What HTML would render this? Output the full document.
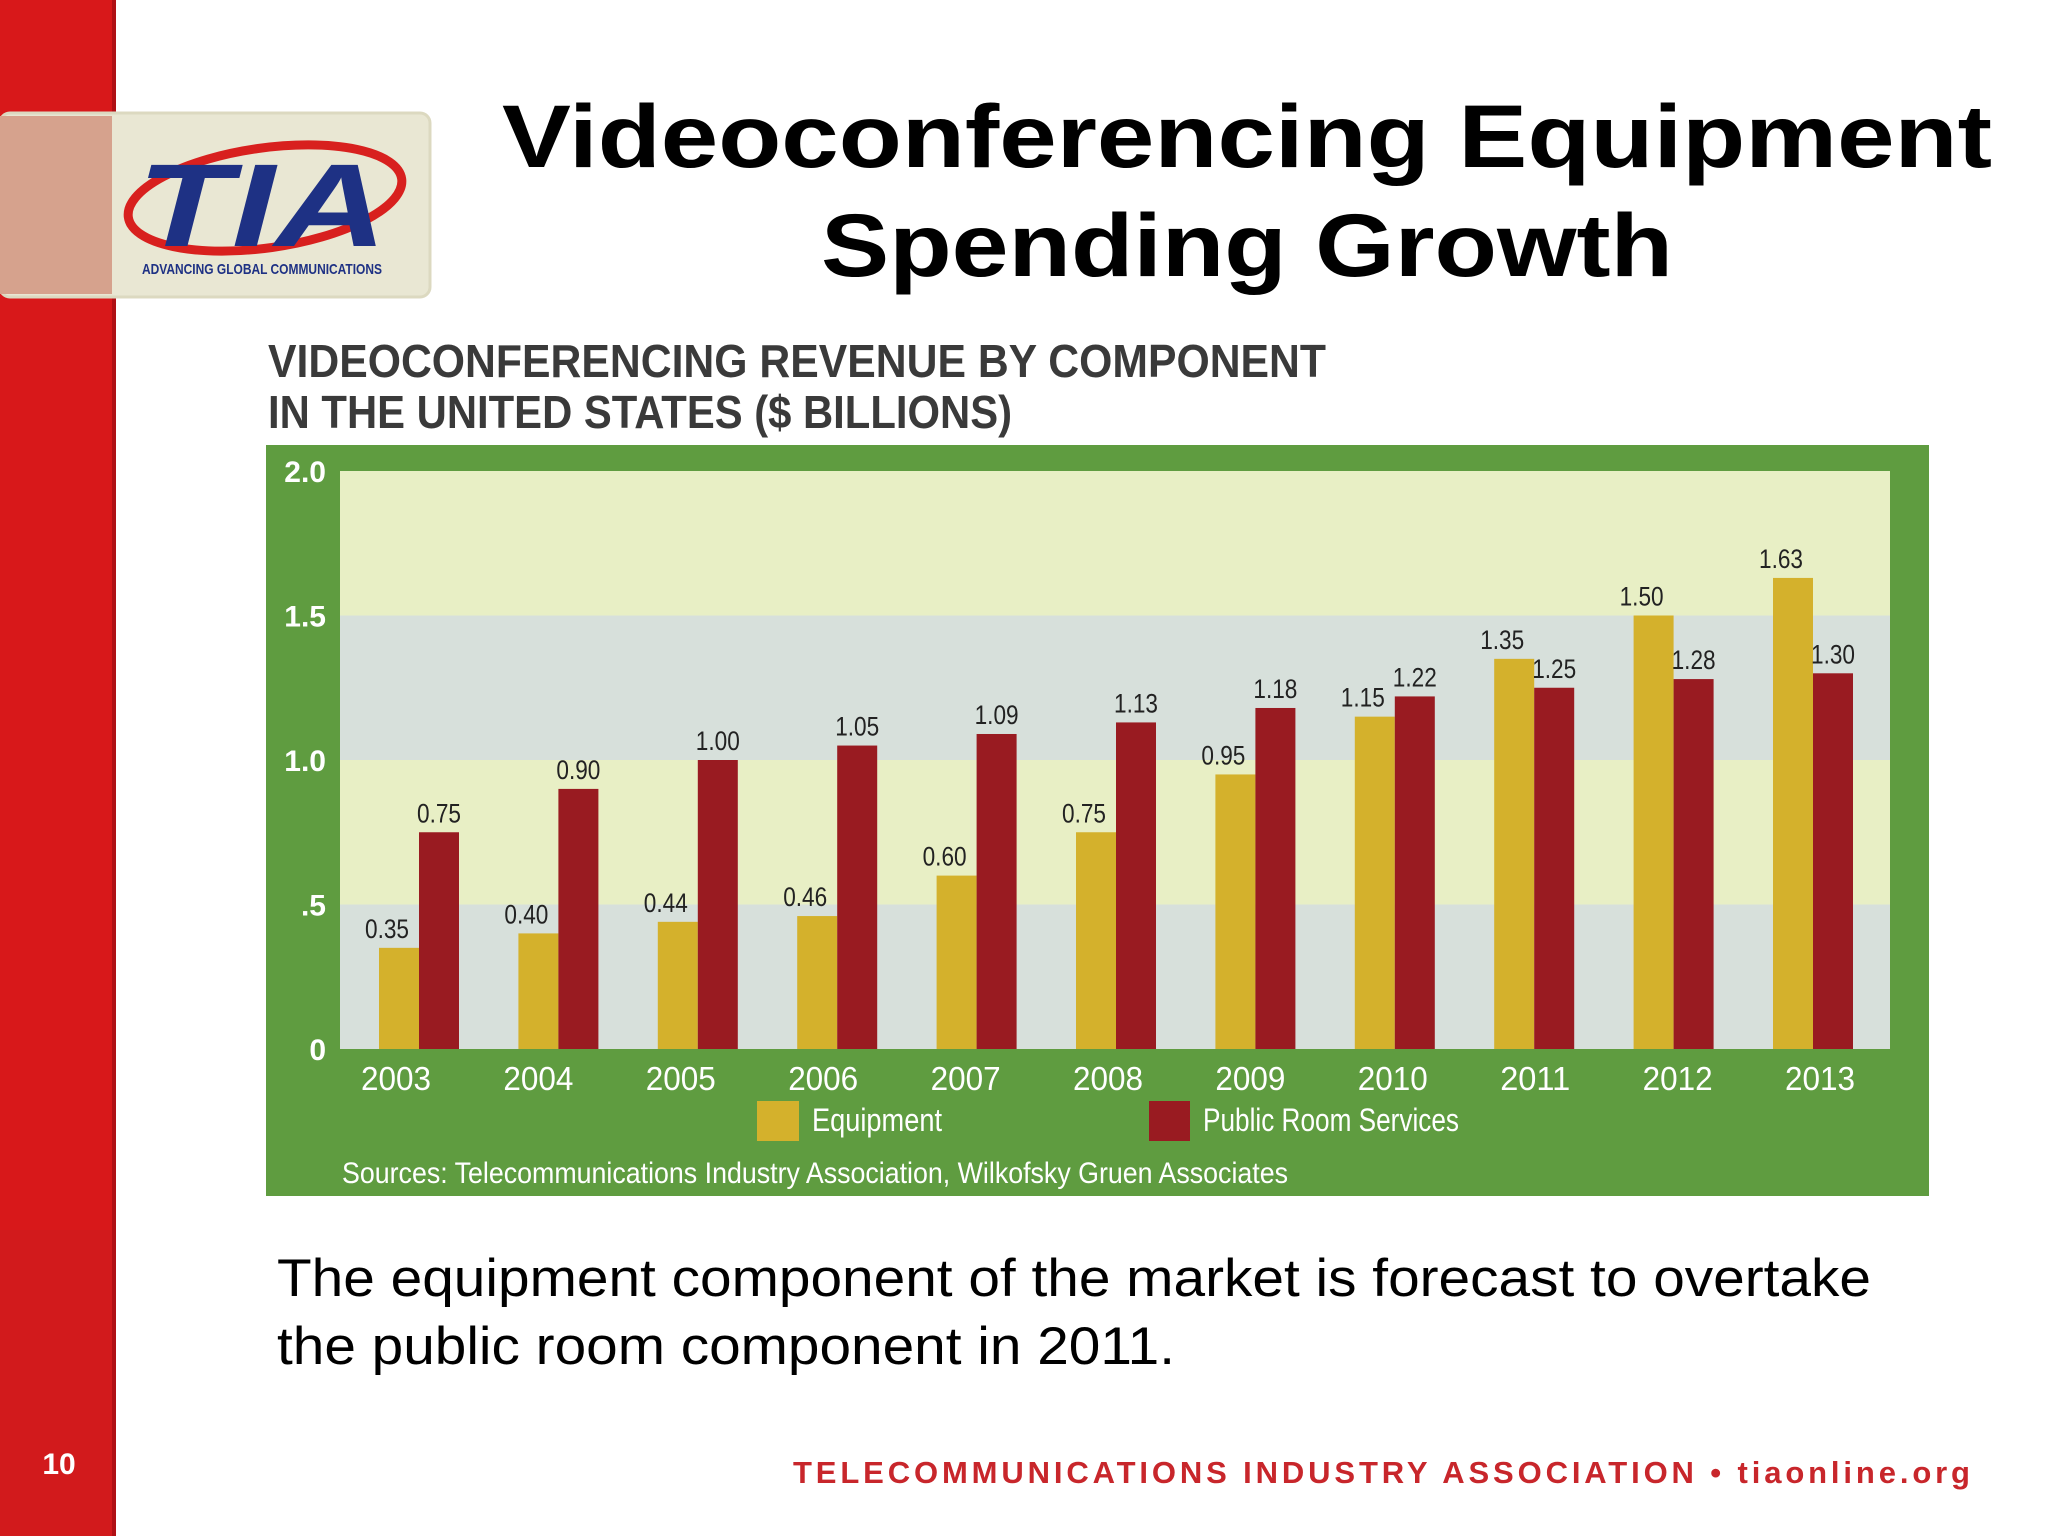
<!DOCTYPE html>
<html><head><meta charset="utf-8"><style>
html,body{margin:0;padding:0;background:#fff}
svg{display:block}
text{font-family:"Liberation Sans",sans-serif}
</style></head><body>
<svg id="s" width="2048" height="1536" viewBox="0 0 2048 1536" xmlns="http://www.w3.org/2000/svg">
<rect x="0" y="0" width="112" height="1536" fill="#d8181a"/>
<rect x="112" y="0" width="4" height="1536" fill="#b01015"/>
<rect x="0" y="1230" width="112" height="306" fill="#d21a1c"/>
<g>
<rect x="0" y="113" width="430" height="184" rx="10" fill="#e9e7d3" stroke="#dcd9c0" stroke-width="3"/>
<rect x="0" y="116" width="112" height="178" fill="#d6a28d"/>
<ellipse cx="265" cy="198" rx="138" ry="50" transform="rotate(-8 265 198)" fill="none" stroke="#d8201e" stroke-width="9"/>
<text x="262" y="246" text-anchor="middle" font-size="118" font-weight="bold" font-style="italic" fill="#1e3184" textLength="250" lengthAdjust="spacingAndGlyphs">TIA</text>
<text x="262" y="274" text-anchor="middle" font-size="15" font-weight="bold" fill="#1e3184" textLength="240" lengthAdjust="spacingAndGlyphs">ADVANCING GLOBAL COMMUNICATIONS</text>
</g>
<text x="1247" y="167" text-anchor="middle" font-size="89" font-weight="bold" fill="#000" textLength="1490" lengthAdjust="spacingAndGlyphs">Videoconferencing Equipment</text>
<text x="1247" y="276" text-anchor="middle" font-size="89" font-weight="bold" fill="#000" textLength="852" lengthAdjust="spacingAndGlyphs">Spending Growth</text>
<text x="268" y="377" font-size="46" font-weight="bold" fill="#3a3a3a" textLength="1058" lengthAdjust="spacingAndGlyphs">VIDEOCONFERENCING REVENUE BY COMPONENT</text>
<text x="268" y="428" font-size="46" font-weight="bold" fill="#3a3a3a" textLength="744" lengthAdjust="spacingAndGlyphs">IN THE UNITED STATES ($ BILLIONS)</text>
<rect x="266" y="445" width="1663" height="751" fill="#5f9c40"/>
<g id="chart"></g>
<text x="277" y="1296" font-size="53" fill="#000" textLength="1594" lengthAdjust="spacingAndGlyphs">The equipment component of the market is forecast to overtake</text>
<text x="277" y="1364" font-size="53" fill="#000" textLength="898" lengthAdjust="spacingAndGlyphs">the public room component in 2011.</text>
<text x="59" y="1474" text-anchor="middle" font-size="30" font-weight="bold" fill="#fff">10</text>
<text x="793" y="1483" font-size="31" font-weight="bold" fill="#c8262b" textLength="1177" lengthAdjust="spacing">TELECOMMUNICATIONS INDUSTRY ASSOCIATION • tiaonline.org</text>
</svg>
<script>
const years=["2003","2004","2005","2006","2007","2008","2009","2010","2011","2012","2013"];
const equipment=[0.35,0.40,0.44,0.46,0.60,0.75,0.95,1.15,1.35,1.50,1.63];
const publicRoom=[0.75,0.90,1.00,1.05,1.09,1.13,1.18,1.22,1.25,1.28,1.30];
const yTicks=[0,0.5,1.0,1.5,2.0];
const yTickLabels=["0",".5","1.0","1.5","2.0"];
const NS="http://www.w3.org/2000/svg";
const g=document.getElementById('chart');
const X0=340,X1=1890,Y0=1049,Y1=471,YMAX=2;
const y=v=>Y0-(v/YMAX)*(Y0-Y1);
const xc=i=>419+i*139.4;
const xl=i=>396+i*142.4;
function mk(tag,attrs,txt){const e=document.createElementNS(NS,tag);for(const k in attrs)e.setAttribute(k,attrs[k]);if(txt!==undefined)e.textContent=txt;g.appendChild(e);return e;}
const bandColors=["#d7e0db","#e8efc5","#d7e0db","#e8efc5"];
for(let i=0;i<yTicks.length-1;i++){
 const b=mk('rect',{x:X0,y:y(yTicks[i+1]),width:X1-X0,height:y(yTicks[i])-y(yTicks[i+1]),fill:bandColors[i]});
 
 
}
yTicks.forEach((t,i)=>{
 const e=mk('text',{x:326,y:y(t)+11,'text-anchor':'end','font-size':30,'font-weight':'bold',fill:'#fff'},yTickLabels[i]);
 
 
});
const bw=40;
years.forEach((yr,i)=>{
 const c=xc(i);
 const a=mk('rect',{x:c-bw,y:y(equipment[i]),width:bw,height:Y0-y(equipment[i]),fill:'#d4b12c'});
 
 
 const b=mk('rect',{x:c,y:y(publicRoom[i]),width:bw,height:Y0-y(publicRoom[i]),fill:'#991b21'});
 
 
 const la=mk('text',{x:c-bw/2-12,y:y(equipment[i])-10,'text-anchor':'middle','font-size':27,fill:'#222',textLength:44,lengthAdjust:'spacingAndGlyphs'},equipment[i].toFixed(2));
 
 
 const lb=mk('text',{x:c+bw/2,y:y(publicRoom[i])-10,'text-anchor':'middle','font-size':27,fill:'#222',textLength:44,lengthAdjust:'spacingAndGlyphs'},publicRoom[i].toFixed(2));
 
 
 const t=mk('text',{x:xl(i),y:1090,'text-anchor':'middle','font-size':33,fill:'#fff',textLength:70,lengthAdjust:'spacingAndGlyphs'},yr);
 
 
});
const s1=mk('rect',{x:757,y:1101,width:42,height:40,fill:'#d4b12c'});


const t1=mk('text',{x:812,y:1131,'font-size':32,fill:'#fff',textLength:130,lengthAdjust:'spacingAndGlyphs'},'Equipment');


const s2=mk('rect',{x:1149,y:1101,width:41,height:40,fill:'#991b21'});


const t2=mk('text',{x:1203,y:1131,'font-size':32,fill:'#fff',textLength:256,lengthAdjust:'spacingAndGlyphs'},'Public Room Services');


const src=mk('text',{x:342,y:1183,'font-size':30,fill:'#fff',textLength:946,lengthAdjust:'spacingAndGlyphs'},'Sources: Telecommunications Industry Association, Wilkofsky Gruen Associates');


</script>
</body></html>
